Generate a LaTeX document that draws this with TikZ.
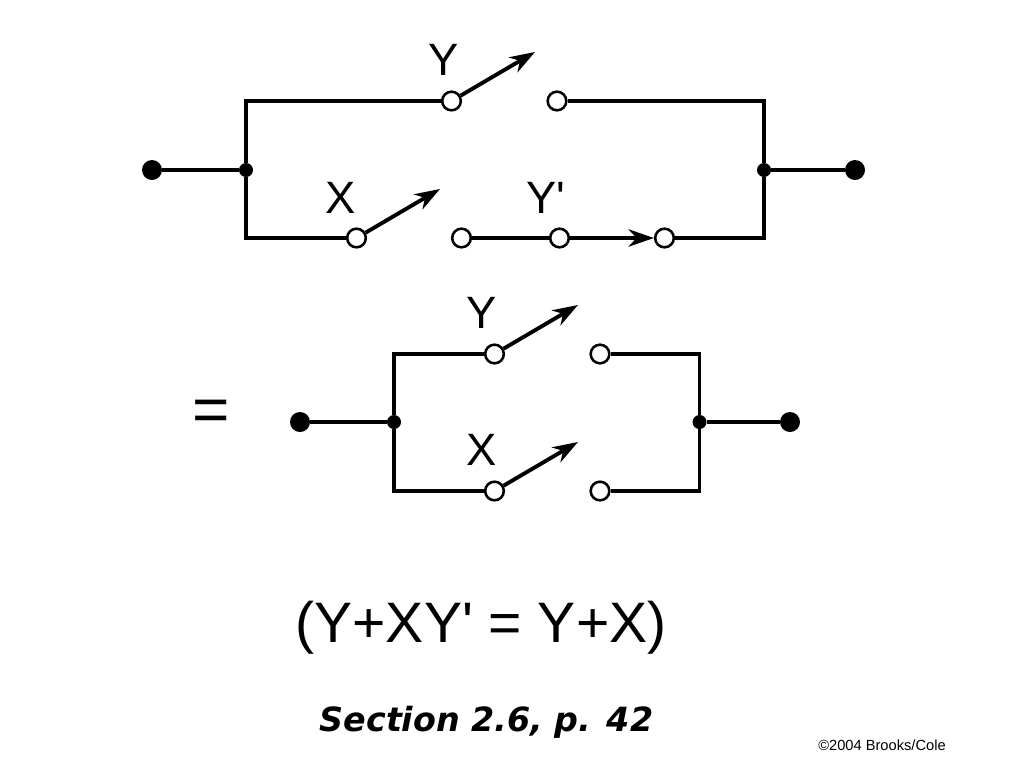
\documentclass[tikz,border=0pt]{standalone}
\usepackage{fontspec}
\usepackage{tikz}
\usetikzlibrary{arrows.meta}
\setmainfont{Liberation Sans}
\newfontfamily\secfont{DejaVu Sans}

\tikzset{
  wire/.style={line width=2.3pt},
  arm/.style={line width=2.9pt, -{Stealth[length=19pt,width=13pt,inset=6pt]}},
  terminal/.style={circle, fill=black, inner sep=0pt, minimum size=15pt},
  junction/.style={circle, fill=black, inner sep=0pt, minimum size=10.5pt},
  contact/.style={circle, draw, line width=1.9pt, fill=white, inner sep=0pt, minimum size=14pt},
  swlabel/.style={font=\fontsize{34pt}{34pt}\selectfont, inner sep=0pt}
}

\begin{document}
\begin{tikzpicture}[x=0.75pt, y=-0.75pt]
\useasboundingbox (0,0) rectangle (1024,768);

% upper circuit
\node[terminal] (inleft) at (152,170) {};
\node[junction] (jleft) at (246,170) {};
\node[junction] (jright) at (764,170) {};
\node[terminal] (inright) at (855,170) {};
\node[contact] (ya) at (451.5,101) {};
\node[contact] (yb) at (557,101) {};
\node[contact] (xa) at (356.5,238) {};
\node[contact] (xb) at (461.5,238) {};
\node[contact] (yna) at (559.5,238) {};
\node[contact] (ynb) at (664.5,238) {};
\coordinate (yend) at (535,52);
\coordinate (xend) at (440,189);

\draw[wire] (inleft) -- (jleft);
\draw[wire] (jright) -- (inright);
\draw[wire] (jleft) |- (ya);
\draw[wire] (jleft) |- (xa);
\draw[wire] (jright) |- (yb);
\draw[wire] (jright) |- (ynb);
\draw[wire] (xb) -- (yna);
\draw[arm] (ya) -- (yend);
\draw[arm] (xa) -- (xend);
\draw[arm] (yna) -- (ynb);

\node[swlabel] (ylabel) at (443.5,60) {Y};
\node[swlabel] (xlabel) at (341,198) {X};
\node[swlabel] (ynlabel) at (546,198) {Y\textquotesingle};

% lower circuit
\node[font=\fontsize{48pt}{48pt}\selectfont, inner sep=0pt] (equals) at (211.5,416) {=};
\node[terminal] (outleft) at (300,422) {};
\node[junction] (kleft) at (394,422) {};
\node[junction] (kright) at (699.5,422) {};
\node[terminal] (outright) at (790,422) {};
\node[contact] (pa) at (494.5,354) {};
\node[contact] (pb) at (600,354) {};
\node[contact] (qa) at (494.5,491) {};
\node[contact] (qb) at (600,491) {};
\coordinate (pend) at (578,305);
\coordinate (qend) at (578,442);

\draw[wire] (outleft) -- (kleft);
\draw[wire] (kright) -- (outright);
\draw[wire] (kleft) |- (pa);
\draw[wire] (kleft) |- (qa);
\draw[wire] (kright) |- (pb);
\draw[wire] (kright) |- (qb);
\draw[arm] (pa) -- (pend);
\draw[arm] (qa) -- (qend);

\node[swlabel] (plabel) at (481.5,313) {Y};
\node[swlabel] (qlabel) at (481.5,450) {X};

% captions
\node[font=\fontsize{42.8pt}{42.8pt}\selectfont, inner sep=0pt] (formula) at (481,628) {(Y+XY\textquotesingle{} = Y+X)};
\node[font=\fontsize{25pt}{25pt}\secfont\bfseries\itshape, inner sep=0pt] (section) at (486.5,722) {Section 2.6, p. 42};
\node[font=\fontsize{11pt}{11pt}\selectfont, inner sep=0pt] (credit) at (882,745) {©2004 Brooks/Cole};
\end{tikzpicture}
\end{document}
